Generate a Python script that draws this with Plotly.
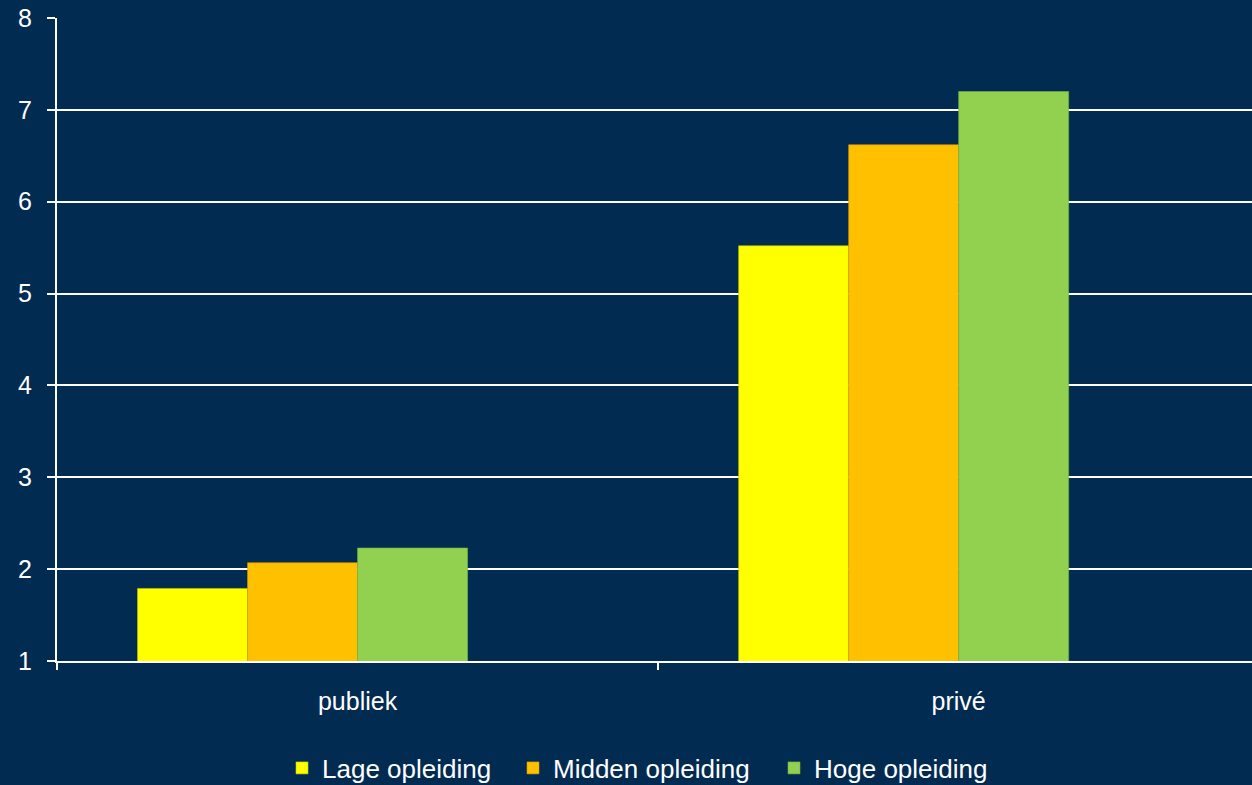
import plotly.graph_objects as go

categories = ["publiek", "privé"]
series_names = ["Lage opleiding", "Midden opleiding", "Hoge opleiding"]
lage = [1.79, 5.52]
midden = [2.07, 6.62]
hoge = [2.23, 7.20]
empty_series = [None, None]  # unused fourth series slot in the original chart
colors = ["#FFFF00", "#FFC000", "#92D050"]
edge_colors = ["#C8C800", "#D49A00", "#7AB040"]
legend_ids = ["legend", "legend2", "legend3"]
legend_left_px = [282, 513, 774]

bg = "#022B52"
fig = go.Figure()
for name, vals, c, ec, lg in zip(series_names, [lage, midden, hoge], colors, edge_colors, legend_ids):
    fig.add_trace(go.Bar(x=categories, y=vals, name=name, legend=lg,
                         marker=dict(color=c, line=dict(color=ec, width=0.6))))
fig.add_trace(go.Bar(x=categories, y=empty_series, name="", showlegend=False,
                     hoverinfo="skip", marker=dict(color=bg)))

legend_common = dict(orientation="h", xref="container", yref="container",
                     xanchor="left", yanchor="middle", y=1 - 768 / 785,
                     font=dict(size=26, color="white"), bgcolor="rgba(0,0,0,0)",
                     itemwidth=30)
layout_legends = {lg: dict(legend_common, x=px / 1252) for lg, px in zip(legend_ids, legend_left_px)}

fig.update_layout(
    width=1252, height=785,
    paper_bgcolor=bg, plot_bgcolor=bg,
    margin=dict(l=57, r=0, t=18, b=124, autoexpand=False),
    barmode="group", bargap=0.268, bargroupgap=0,
    font=dict(family="Liberation Sans, Arial, sans-serif", color="white", size=25),
    showlegend=True,
    **layout_legends,
)
fig.update_xaxes(
    type="category", range=[-0.5, 1.488], tickson="boundaries", automargin=False,
    showline=True, linecolor="white", linewidth=2,
    ticks="outside", ticklen=7, tickcolor="white", tickwidth=2,
    showgrid=False, tickfont=dict(size=25, color="white"),
    ticklabelstandoff=17,
)
fig.update_yaxes(
    range=[1, 8], dtick=1, tick0=1, automargin=False,
    showline=True, linecolor="white", linewidth=2,
    ticks="outside", ticklen=8, tickcolor="white", tickwidth=2,
    showgrid=True, gridcolor="white", gridwidth=1.5,
    zeroline=False, tickfont=dict(size=25, color="white"),
    ticklabelstandoff=10,
)
fig.write_html("out.html", config={"displayModeBar": False},
               post_script="document.body.style.margin='0';document.body.style.background='%s';" % bg)
